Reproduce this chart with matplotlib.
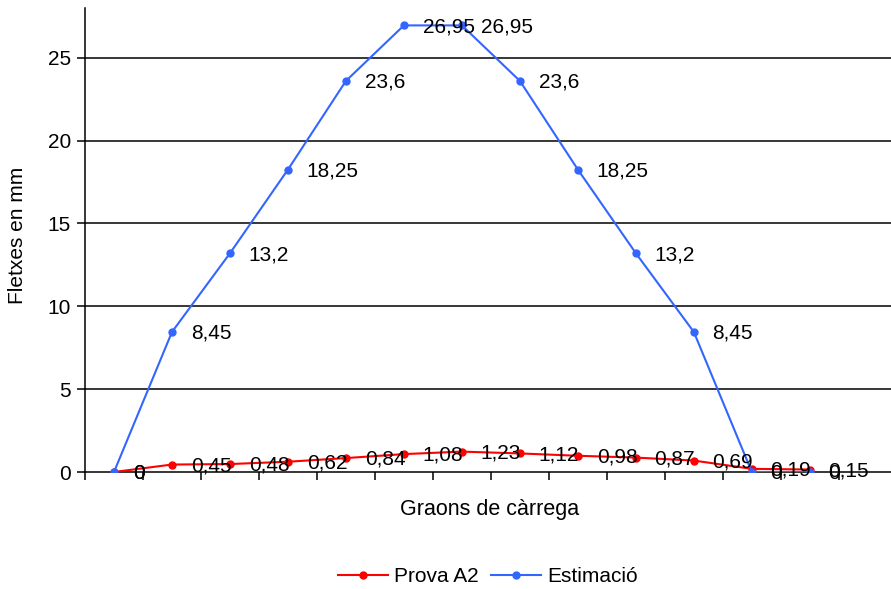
import matplotlib.pyplot as plt
import numpy as np

plt.rcParams['font.family'] = ['Liberation Sans', 'DejaVu Sans']

# data
steps = list(range(13))
prova_a2 = [0, 0.45, 0.48, 0.62, 0.84, 1.08, 1.23, 1.12, 0.98, 0.87, 0.69, 0.19, 0.15]
estimacio = [0, 8.45, 13.2, 18.25, 23.6, 26.95, 26.95, 23.6, 18.25, 13.2, 8.45, 0, 0]
yticks = [0, 5, 10, 15, 20, 25]


def fmt(v):
    return ('%g' % v).replace('.', ',')


def plot_chart():
    fig = plt.figure(figsize=(8.91, 5.89), dpi=100)
    ax = fig.add_axes([85 / 891, 1 - 472 / 589, 1 - 85 / 891, (472 - 8) / 589])

    for yv in yticks[1:]:
        ax.axhline(yv, color='black', lw=1.1, zorder=1)

    ax.plot(steps, prova_a2, color='#FF0000', marker='o', ms=5, lw=1.5,
            label='Prova A2', zorder=3)
    ax.plot(steps, estimacio, color='#3366FF', marker='o', ms=5, lw=1.5,
            label='Estimació', zorder=4)

    for x, v in zip(steps, prova_a2):
        ax.annotate(fmt(v), (x, v), xytext=(13.5, -1), textcoords='offset points',
                    ha='left', va='center', fontsize=15, zorder=5)
    for x, v in zip(steps, estimacio):
        ax.annotate(fmt(v), (x, v), xytext=(13.5, -1), textcoords='offset points',
                    ha='left', va='center', fontsize=15, zorder=5)

    ax.set_xlim(-0.5, 13.4)
    ax.set_ylim(0, 28)
    ax.set_yticks(yticks)
    ax.set_xticks(np.arange(-0.5, 13.5, 1))
    ax.set_xticklabels([])
    ax.tick_params(axis='x', direction='out', length=6, width=1.1)
    ax.tick_params(axis='y', direction='out', length=6, width=1.1, labelsize=15, pad=4)

    ax.spines['top'].set_visible(False)
    ax.spines['right'].set_visible(False)
    ax.spines['left'].set_linewidth(1.1)
    ax.spines['bottom'].set_linewidth(1.1)
    ax.set_clip_on(False)

    fig.text(490 / 891, 1 - 510 / 589, 'Graons de càrrega', ha='center', va='center', fontsize=15.5)
    fig.text(18 / 891, 1 - 235 / 589, 'Fletxes en mm', ha='center', va='center',
             rotation=90, fontsize=15)

    fig.legend(loc='center', bbox_to_anchor=(488 / 891, 1 - 577 / 589), ncol=2,
               frameon=False, fontsize=15, handlelength=2.4, handletextpad=0.3,
               columnspacing=0.6)

    fig.savefig('out.png', dpi=100)


if __name__ == '__main__':
    plot_chart()
